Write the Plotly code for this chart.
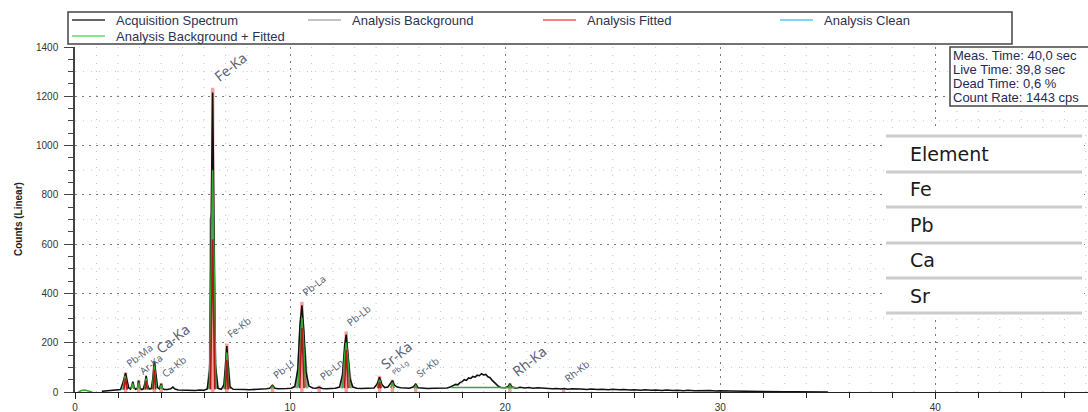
import plotly.graph_objects as go

# ---------------- data ----------------
spectrum_kev = [1.25, 1.4, 1.55, 1.7, 1.85, 2.0, 2.12, 2.22, 2.28, 2.35, 2.42, 2.5, 2.58, 2.64, 2.69, 2.75,
                2.82, 2.9, 2.96, 3.02, 3.1, 3.18, 3.25, 3.31, 3.37, 3.45, 3.55, 3.62, 3.69, 3.76, 3.84, 3.92,
                3.97, 4.01, 4.06, 4.15, 4.3, 4.45, 4.55, 4.65, 4.8, 5.0, 5.2, 5.4, 5.6, 5.8, 6.0, 6.15,
                6.27, 6.34, 6.40, 6.46, 6.53, 6.65, 6.8, 6.93, 7.0, 7.06, 7.12, 7.2, 7.35, 7.5, 7.7, 7.9,
                8.1, 8.3, 8.5, 8.7, 8.9, 9.05, 9.18, 9.3, 9.45, 9.65, 9.85, 10.05, 10.22, 10.36, 10.46, 10.55,
                10.64, 10.74, 10.88, 11.05, 11.2, 11.35, 11.5, 11.7, 11.9, 12.1, 12.3, 12.44, 12.54, 12.61, 12.68, 12.78,
                12.92, 13.1, 13.3, 13.5, 13.7, 13.9, 14.05, 14.16, 14.27, 14.4, 14.55, 14.68, 14.76, 14.85, 14.98, 15.15,
                15.35, 15.55, 15.72, 15.84, 15.95, 16.15, 16.4, 16.7, 17.0, 17.3, 17.45, 17.6, 17.7, 17.8, 17.9, 18.0,
                18.1, 18.2, 18.3, 18.4, 18.5, 18.6, 18.7, 18.8, 18.9, 19.0, 19.1, 19.2, 19.3, 19.4, 19.5, 19.6,
                19.7, 19.8, 20.0, 20.14, 20.22, 20.32, 20.5, 20.7, 20.9, 21.1, 21.3, 21.5, 21.8, 22.0, 22.2, 22.4,
                22.6, 22.75, 22.9, 23.1, 23.3, 23.5, 23.8, 24.0, 24.3, 24.5, 24.8, 25.0, 25.3, 25.5, 25.8, 26.0,
                26.3, 26.5, 26.8, 27.0, 27.3, 27.5, 27.8, 28.0, 28.3, 28.5, 28.8, 29.0, 29.3, 29.5, 29.8, 30.0,
                30.5, 31.0, 31.5, 32.0, 32.5, 33.0, 33.5, 34.0, 34.5, 35.0]
spectrum_counts = [3, 4, 5, 6, 7, 8, 10, 35, 60, 76, 48, 16, 12, 24, 42, 18,
                   11, 14, 46, 16, 10, 13, 35, 66, 28, 12, 14, 55, 124, 60, 18, 13,
                   22, 33, 15, 10, 10, 13, 20, 12, 8, 7, 6, 7, 6, 8, 7, 12,
                   90, 760, 1215, 700, 110, 15, 11, 30, 120, 186, 110, 22, 11, 10, 9, 10,
                   9, 11, 10, 12, 13, 15, 27, 15, 13, 12, 14, 15, 22, 90, 270, 352,
                   250, 80, 24, 16, 15, 19, 14, 13, 14, 15, 20, 70, 190, 233, 165, 55,
                   20, 15, 14, 15, 14, 16, 32, 60, 30, 18, 20, 36, 46, 28, 20, 17,
                   16, 15, 20, 31, 17, 15, 14, 15, 14, 16, 20, 25, 31, 29, 38, 42,
                   50, 47, 57, 55, 63, 60, 68, 66, 74, 69, 71, 62, 58, 47, 38, 28,
                   22, 18, 17, 22, 32, 20, 16, 19, 16, 18, 15, 17, 14, 15, 13, 14,
                   12, 14, 11, 13, 11, 12, 10, 12, 10, 11, 9, 11, 9, 10, 8, 9,
                   7, 9, 7, 8, 6, 8, 6, 7, 5, 7, 5, 6, 5, 6, 4, 5,
                   4, 3, 3, 2, 2, 1, 1, 1, 1, 0]

# Analysis Background + Fitted (peak segments, None separates segments)
bgfit_kev = [0.15, 0.3, 0.45, 0.6, 0.8, None,
             2.22, 2.33, 2.44, None, 2.62, 2.68, 2.74, None, 2.9, 2.96, 3.02, None,
             3.24, 3.31, 3.38, None, 3.6, 3.69, 3.78, None, 3.95, 4.01, 4.07, None,
             6.25, 6.34, 6.40, 6.46, 6.55, None, 6.96, 7.06, 7.15, None, 9.1, 9.18, 9.26, None,
             10.38, 10.48, 10.55, 10.62, 10.72, None, 12.45, 12.54, 12.61, 12.68, 12.78, None,
             14.06, 14.16, 14.26, None, 14.68, 14.76, 14.84, None, 15.77, 15.84, 15.91, None,
             17.5, 18.5, 19.8, 20.6, None, 20.15, 20.22, 20.3]
bgfit_counts = [0, 6, 8, 4, 0, None,
                10, 65, 12, None, 12, 35, 12, None, 12, 38, 12, None,
                12, 55, 14, None, 14, 105, 16, None, 14, 28, 12, None,
                12, 600, 900, 560, 14, None, 12, 160, 14, None, 14, 22, 14, None,
                18, 220, 300, 210, 18, None, 16, 150, 200, 140, 16, None,
                16, 50, 16, None, 16, 38, 16, None, 15, 25, 15, None,
                18, 19, 18, 17, None, 17, 27, 17]

# Analysis Fitted
fitted_kev = [2.27, 2.35, 2.43, None, 3.26, 3.31, 3.36, None, 3.63, 3.69, 3.75, None,
              6.30, 6.37, 6.40, 6.43, 6.50, None, 7.00, 7.06, 7.12, None,
              10.45, 10.52, 10.55, 10.58, 10.65, None, 12.53, 12.59, 12.61, 12.64, 12.70, None,
              14.11, 14.16, 14.21]
fitted_counts = [10, 55, 10, None, 10, 45, 10, None, 10, 90, 10, None,
                 10, 450, 620, 420, 10, None, 10, 130, 10, None,
                 15, 200, 260, 190, 15, None, 15, 130, 170, 120, 15, None,
                 15, 40, 15]

# Analysis Background (grey)
background_kev = [6.18, 6.28, 6.31, 6.36, 6.52, 6.60, None, 6.92, 6.98, 7.10, 7.20, None,
                  10.30, 10.40, 10.50, 10.70, 10.80, None, 12.40, 12.50, 12.60, 12.75, 12.85]
background_counts = [12, 120, 700, 720, 60, 12, None, 12, 60, 120, 12, None,
                     15, 120, 290, 150, 15, None, 15, 120, 200, 90, 15]

# Element line markers and labels
line_names = ["Pb-Ma", "Ar-Ka", "Ca-Ka", "Ca-Kb", "Fe-Ka", "Fe-Kb", "Pb-Ll", "Pb-La",
              "Pb-Ln", "Pb-Lb", "Sr-Ka", "Pb-Lg", "Sr-Kb", "Rh-Ka", "Rh-Kb"]
line_kev = [2.35, 2.96, 3.69, 4.01, 6.40, 7.06, 9.18, 10.55,
            11.35, 12.61, 14.16, 14.76, 15.84, 20.22, 22.72]
line_height = [80, 48, 126, 36, 1235, 196, 30, 366,
               26, 246, 66, 50, 35, 36, 16]

legend_names = ["Acquisition Spectrum", "Analysis Background", "Analysis Fitted",
                "Analysis Clean", "Analysis Background + Fitted"]
info_lines = ["Meas. Time: 40,0 sec", "Live Time: 39,8 sec", "Dead Time: 0,6 %", "Count Rate: 1443 cps"]
table_header = "Element"
elements = ["Fe", "Pb", "Ca", "Sr"]

x_ticks = [0, 10, 20, 30, 40]
y_ticks = [0, 200, 400, 600, 800, 1000, 1200, 1400]

assert len(spectrum_kev) == len(spectrum_counts)
assert len(bgfit_kev) == len(bgfit_counts)
assert len(fitted_kev) == len(fitted_counts)
assert len(background_kev) == len(background_counts)

# ---------------- layout geometry (pixels) ----------------
W, H = 1088, 412
PX_L, PX_R, PY_T, PY_B = 75, 1088, 47, 392
X_MAX = 47.1
Y_MAX = 1400


def pxx(px):
    return (px - PX_L) / (PX_R - PX_L)


def pyy(py):
    return (PY_B - py) / (PY_B - PY_T)


fig = go.Figure()

# peak marker lines (pink)
mk_x, mk_y = [], []
for e, h in zip(line_kev, line_height):
    mk_x += [e, e, None]
    mk_y += [0, h, None]
fig.add_trace(go.Scatter(x=mk_x, y=mk_y, mode="lines", line=dict(color="#ffa0a0", width=3.5),
                         showlegend=False, hoverinfo="skip"))

fig.add_trace(go.Scatter(x=background_kev, y=background_counts, mode="lines", name=legend_names[1],
                         line=dict(color="#9c9c9c", width=2.5), showlegend=False))
fig.add_trace(go.Scatter(x=spectrum_kev, y=spectrum_counts, mode="lines", name=legend_names[0],
                         line=dict(color="#111111", width=1.6), showlegend=False))
fig.add_trace(go.Scatter(x=bgfit_kev, y=bgfit_counts, mode="lines", name=legend_names[4],
                         line=dict(color="#36a836", width=1.6), showlegend=False))
fig.add_trace(go.Scatter(x=fitted_kev, y=fitted_counts, mode="lines", name=legend_names[2],
                         line=dict(color="#b01818", width=1.6), showlegend=False))
fig.add_trace(go.Scatter(x=[None], y=[None], mode="lines", name=legend_names[3],
                         line=dict(color="#55c8f0", width=1.5), showlegend=False))

shapes = []
# faint minor grid
for xv in range(1, 48):
    if xv % 10 != 0:
        shapes.append(dict(type="line", xref="x", yref="y", x0=xv, x1=xv, y0=0, y1=Y_MAX,
                           line=dict(color="#c4c4c4", width=1, dash="1px,7px"), layer="below"))
for yv in range(100, 1400, 200):
    shapes.append(dict(type="line", xref="x", yref="y", x0=0, x1=X_MAX, y0=yv, y1=yv,
                       line=dict(color="#c4c4c4", width=1, dash="1px,7px"), layer="below"))

annotations = []

# peak labels
big = {"Fe-Ka": 14, "Ca-Ka": 14, "Sr-Ka": 14, "Rh-Ka": 14, "Pb-Lg": 7}
for name, e, h in zip(line_names, line_kev, line_height):
    annotations.append(dict(x=e, y=h, xref="x", yref="y", text=name, showarrow=False,
                            xanchor="left", yanchor="bottom", textangle=-38, xshift=-5,
                            font=dict(family="Noto Sans", size=big.get(name, 10), color="#5c6478")))

# legend box (manual)
shapes.append(dict(type="rect", xref="paper", yref="paper", x0=pxx(68), x1=pxx(1012), y0=pyy(44), y1=pyy(12),
                   line=dict(color="#444444", width=1.5), fillcolor="white", layer="above"))
legend_colors = ["#333333", "#b0b0b0", "#f05a5a", "#55c8f0", "#66dd66"]
legend_pos = [(72, 20), (308, 20), (543, 20), (780, 20), (72, 36)]
for name, col, (lx, ly) in zip(legend_names, legend_colors, legend_pos):
    shapes.append(dict(type="line", xref="paper", yref="paper", x0=pxx(lx), x1=pxx(lx + 33),
                       y0=pyy(ly), y1=pyy(ly), line=dict(color=col, width=1.5), layer="above"))
    annotations.append(dict(x=pxx(lx + 42), y=pyy(ly), xref="paper", yref="paper", text=name,
                            showarrow=False, xanchor="left", yanchor="middle",
                            font=dict(family="Liberation Sans", size=13, color="#2e3350")))

# info box
shapes.append(dict(type="rect", xref="paper", yref="paper", x0=pxx(950), x1=pxx(1100), y0=pyy(106), y1=pyy(47),
                   line=dict(color="#444444", width=1.5), fillcolor="white", layer="above"))
for i, t in enumerate(info_lines):
    annotations.append(dict(x=pxx(951), y=pyy(55 + i * 14.3), xref="paper", yref="paper", text=t,
                            showarrow=False, xanchor="left", yanchor="middle",
                            font=dict(family="Liberation Sans", size=13, color="#1f2a55")))

# element table
shapes.append(dict(type="rect", xref="paper", yref="paper", x0=pxx(884), x1=pxx(1084), y0=pyy(318), y1=pyy(130),
                   line=dict(width=0), fillcolor="white", layer="above"))
row_lines = [136, 172, 207, 243, 278, 313]
for ry in row_lines:
    shapes.append(dict(type="line", xref="paper", yref="paper", x0=pxx(886), x1=pxx(1082), y0=pyy(ry), y1=pyy(ry),
                       line=dict(color="#cccccc", width=3), layer="above"))
for i, t in enumerate([table_header] + elements):
    annotations.append(dict(x=pxx(908), y=pyy(154 + i * 35.4), xref="paper", yref="paper", text=t,
                            showarrow=False, xanchor="left", yanchor="middle",
                            font=dict(family="DejaVu Sans", size=19, color="#1a1a1a")))

# y-axis title
annotations.append(dict(x=pxx(18), y=pyy(219), xref="paper", yref="paper", text="<b>Counts (Linear)</b>",
                        showarrow=False, textangle=-90, xanchor="center", yanchor="middle",
                        font=dict(family="Liberation Sans", size=10, color="#222222")))

fig.update_layout(
    width=W, height=H,
    margin=dict(l=PX_L, r=W - PX_R, t=PY_T, b=H - PY_B, pad=0),
    paper_bgcolor="white", plot_bgcolor="white",
    showlegend=False,
    font=dict(family="Liberation Sans", size=10, color="#333333"),
    shapes=shapes, annotations=annotations,
    xaxis=dict(range=[0, X_MAX], tickvals=x_ticks, ticktext=[str(v) for v in x_ticks],
               showline=True, linecolor="#222222", linewidth=1.2, ticks="outside", ticklen=6,
               tickcolor="#222222", showgrid=True, gridcolor="#7a7a7a", griddash="2px,5px", gridwidth=1,
               zeroline=False, tickfont=dict(size=10, color="#333333"),
               minor=dict(dtick=2, tick0=0, ticks="outside", ticklen=5, tickcolor="#222222", showgrid=False)),
    yaxis=dict(range=[0, Y_MAX], tickvals=y_ticks, ticktext=[str(v) for v in y_ticks],
               showline=True, linecolor="#444444", linewidth=1.5, ticks="outside", ticklen=9,
               tickcolor="#444444", showgrid=True, gridcolor="#7a7a7a", griddash="2px,5px", gridwidth=1,
               zeroline=False, tickfont=dict(size=10, color="#333333"), ticklabelstandoff=4,
               minor=dict(dtick=50, tick0=0, ticks="outside", ticklen=5, tickcolor="#444444", showgrid=False)),
)

fig.write_html("out.html", config={"displayModeBar": False},
               post_script="document.body.style.margin='0';document.body.style.overflow='hidden';")
